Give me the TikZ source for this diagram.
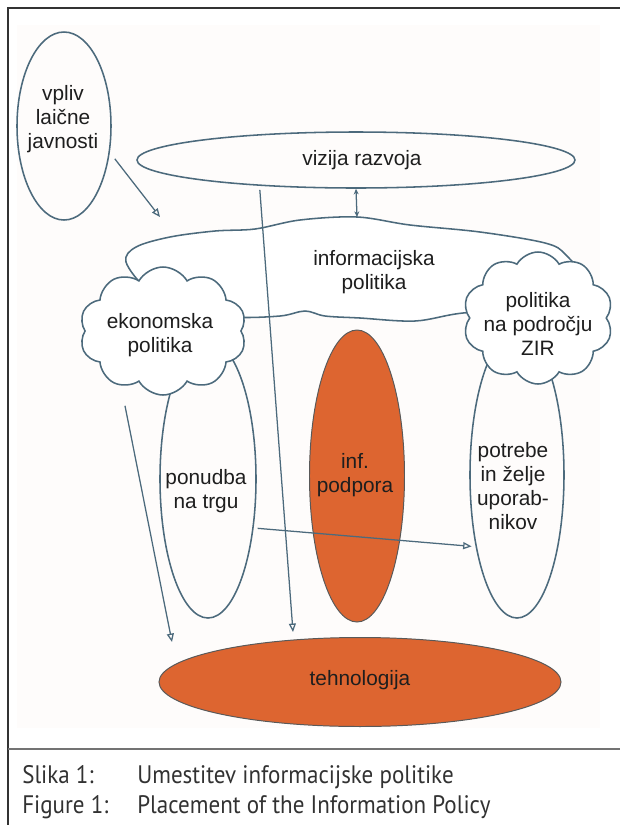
\documentclass[tikz,border=0pt]{standalone}
\usepackage{fontspec}
\usetikzlibrary{shapes.geometric,shapes.symbols,arrows.meta}
\newfontfamily\diagfont{Liberation Sans}
\newfontfamily\capfont{PT Sans}[FakeStretch=0.91]
\definecolor{linec}{RGB}{76,106,124}
\definecolor{orng}{RGB}{221,101,48}
\definecolor{bgc}{RGB}{254,252,251}
\definecolor{txtc}{RGB}{30,30,30}
\definecolor{capc}{RGB}{50,50,50}
\tikzset{
  sz/.style 2 args={minimum width=#1*0.025cm, minimum height=#2*0.025cm},
  shp/.style={draw=linec, line width=1.1pt, inner sep=0pt},
  oval/.style={shp, ellipse},
  orange/.style={ellipse, fill=orng, draw=black!65, line width=0.7pt, inner sep=0pt},
  puff/.style={shp, cloud, cloud ignores aspect, fill=white},
  lbl/.style={font=\diagfont\fontsize{14.8}{16.9}\selectfont, align=center, text=txtc, inner sep=0pt},
  con/.style={draw=linec, line width=0.9pt},
  arr/.style={con, -{Triangle[open, length=6pt, width=5pt]}},
  capt/.style={font=\capfont\fontsize{18}{20}\selectfont, text=capc, inner sep=0pt, anchor=base west}
}

\begin{document}
\begin{tikzpicture}[x=0.025cm, y=-0.025cm]
  \useasboundingbox (0,0) rectangle (620,825);
  \fill[bgc] (17,25) rectangle (600,728);
  \draw[black!80, line width=1pt] (620,8) -- (8,8) -- (8,825);
  \draw[black!55, line width=1.4pt] (8,749) -- (620,749);

  % shapes
  \node[oval, sz={94}{188}] (vpliv) at (64,126) {};
  \node[oval, sz={438}{56}] (vizija) at (356,160) {};
  \node[oval, sz={96}{278}] (ponudba) at (208,479) {};
  \node[oval, sz={94}{286}] (potrebe) at (517,475) {};
  \node[orange, sz={95}{292}] (podpora) at (357,476) {};
  \draw[shp, fill=white] plot[smooth cycle, tension=0.55] coordinates {
    (126,262) (136,247) (170,237) (215,231) (255,229) (300,220) (357,217)
    (410,225) (480,232) (545,243) (566,255) (585,285) (540,308) (463,313)
    (415,321) (360,318) (325,316) (305,311) (280,316) (233,317) (185,308) (148,290)};
  \coordinate (infpolTop) at (357,217);
  \node[puff, cloud puffs=10, cloud puff arc=120, sz={167}{128}] (ekon) at (163,331) {};
  \node[puff, cloud puffs=10, cloud puff arc=120, sz={150}{132}] (zir) at (538,318) {};
  \node[orange, sz={402}{89}] (tehno) at (360,682) {};

  % texts
  \node[lbl] (vplivT) at (63,119) {vpliv\\laične\\javnosti};
  \node[lbl] (vizijaT) at (362,160) {vizija razvoja};
  \node[lbl] (infpol) at (374,272) {informacijska\\politika};
  \node[lbl] (ekonT) at (160,335) {ekonomska\\politika};
  \node[lbl] (zirT) at (538,324) {politika\\na področju\\ZIR};
  \node[lbl] (ponudbaT) at (206,491) {ponudba\\na trgu};
  \node[lbl] (podporaT) at (355,475) {inf.\\podpora};
  \node[lbl] (potrebeT) at (513,486) {potrebe\\in želje\\uporab-\\nikov};
  \node[lbl] (tehnoT) at (360,680) {tehnologija};

  % connectors
  \coordinate (vplivEnd) at (160,217);
  \coordinate (tehnoTop) at (293,632);
  \coordinate (tehnoLeft) at (172,642);
  \draw[arr, shorten <=0.2cm] (vpliv.-30) -- (vplivEnd);
  \draw[con, {Stealth[length=4pt,width=3.5pt]}-{Stealth[length=4pt,width=3.5pt]}] (vizija.south) -- (infpolTop);
  \draw[arr, shorten <=0.1cm] (vizija.195) -- (tehnoTop);
  \draw[arr] ([shift={(-38,10)}]ekon.south) -- (tehnoLeft);
  \draw[arr, shorten <=0.1cm, shorten >=0.1cm] (ponudba.-47) -- (potrebe.240);

  % caption
  \node[capt] (slika) at (22,783) {Slika 1:};
  \node[capt] (slikaT) at (137,783) {Umestitev informacijske politike};
  \node[capt] (fig) at (22,813) {Figure 1:};
  \node[capt] (figT) at (137,813) {Placement of the Information Policy};
\end{tikzpicture}
\end{document}
